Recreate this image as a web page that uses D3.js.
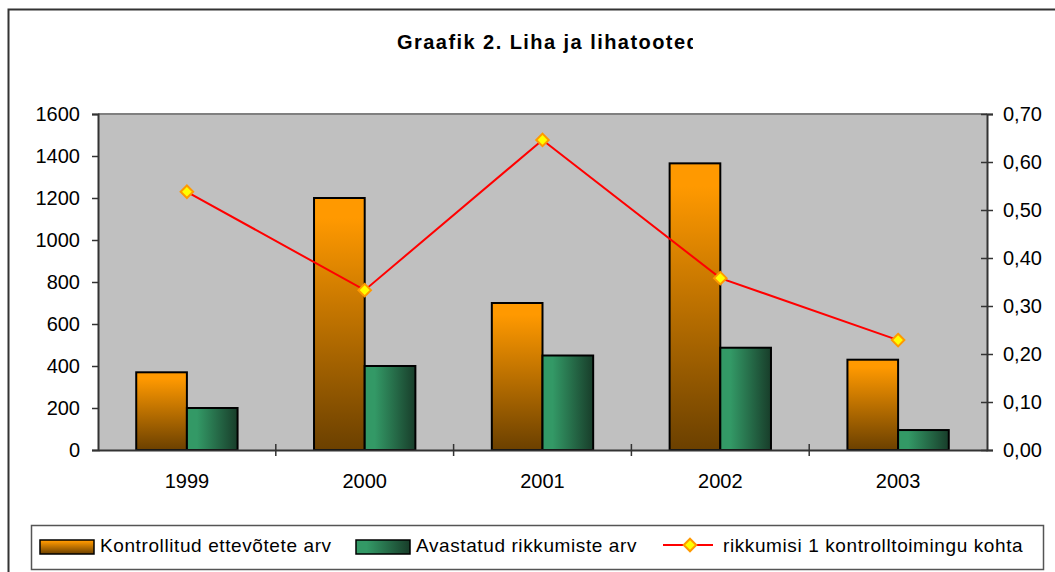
<!DOCTYPE html>
<html>
<head>
<meta charset="utf-8">
<script src="https://cdn.jsdelivr.net/npm/d3@7"></script>
<style>
  body { margin: 0; background: #fff; }
  text { font-family: "Liberation Sans", Arial, sans-serif; }
</style>
</head>
<body>
<div id="chart-area"><svg></svg></div>
<script>
const chartSize = { width: 1055, height: 572 };
const plot = { left: 98, right: 987, top: 114, bottom: 450 };

const years = ["1999", "2000", "2001", "2002", "2003"];
const controlledCompanies = [370, 1200, 700, 1365, 430];
const violationsFound = [200, 400, 450, 487, 95];
const violationsPerCheck = [0.538, 0.333, 0.646, 0.358, 0.229];
const leftTicks = [0, 200, 400, 600, 800, 1000, 1200, 1400, 1600];
const rightTicks = [0, 0.1, 0.2, 0.3, 0.4, 0.5, 0.6, 0.7];
const seriesNames = [
  "Kontrollitud ettevõtete arv",
  "Avastatud rikkumiste arv",
  "rikkumisi 1 kontrolltoimingu kohta"
];
const titleText = "Graafik 2. Liha ja lihatooted";

const commaFormat = d => d3.format(".2f")(d).replace(".", ",");
const plainFormat = d3.format("d");

const svg = d3
  .select("#chart-area svg")
  .attr("width", chartSize.width)
  .attr("height", chartSize.height);

const defs = svg.append("defs");

const orange = defs
  .append("linearGradient")
  .attr("id", "orangeGrad")
  .attr("x1", 0).attr("y1", 0).attr("x2", 0).attr("y2", 1);
orange.append("stop").attr("offset", 0).attr("stop-color", "#FF9900");
orange.append("stop").attr("offset", 0.08).attr("stop-color", "#FF9900");
orange.append("stop").attr("offset", 1).attr("stop-color", "#6B4000");

const green = defs
  .append("linearGradient")
  .attr("id", "greenGrad")
  .attr("x1", 0).attr("y1", 0).attr("x2", 1).attr("y2", 0);
green.append("stop").attr("offset", 0).attr("stop-color", "#339966");
green.append("stop").attr("offset", 0.2).attr("stop-color", "#339966");
green.append("stop").attr("offset", 1).attr("stop-color", "#183D2A");

// the title is cut off at the right in the original
defs.append("clipPath").attr("id", "titleClip")
  .append("rect").attr("x", 0).attr("y", 0).attr("width", 693).attr("height", 80);

// outer chart frame (runs off the page on the right and bottom)
svg.append("rect")
  .attr("x", 8.5).attr("y", 9.5)
  .attr("width", 1100).attr("height", 620)
  .attr("fill", "#fff")
  .attr("stroke", "#333")
  .attr("stroke-width", 2);

svg.append("text")
  .attr("x", 397)
  .attr("y", 49)
  .attr("clip-path", "url(#titleClip)")
  .attr("font-size", 20)
  .attr("font-weight", "bold")
  .attr("letter-spacing", 1.45)
  .text(titleText);

const x = d3.scaleBand().domain(years).range([plot.left, plot.right]).padding(0);
const xSub = d3
  .scaleBand()
  .domain([0, 1])
  .range([x.bandwidth() * 0.215, x.bandwidth() * 0.785]);
const yLeft = d3.scaleLinear().domain([0, 1600]).range([plot.bottom, plot.top]);
const yRight = d3.scaleLinear().domain([0, 0.7]).range([plot.bottom, plot.top]);

svg.append("rect")
  .attr("x", plot.left).attr("y", plot.top)
  .attr("width", plot.right - plot.left)
  .attr("height", plot.bottom - plot.top)
  .attr("fill", "#C0C0C0");

svg.append("line")
  .attr("x1", plot.left).attr("x2", plot.right)
  .attr("y1", plot.top).attr("y2", plot.top)
  .attr("stroke", "#808080")
  .attr("stroke-width", 2);

// bars
const rows = years.map((year, i) => ({
  year,
  values: [controlledCompanies[i], violationsFound[i]]
}));
const fills = ["url(#orangeGrad)", "url(#greenGrad)"];

svg.append("g")
  .selectAll("g")
  .data(rows)
  .join("g")
  .attr("transform", d => `translate(${x(d.year)},0)`)
  .selectAll("rect")
  .data(d => d.values)
  .join("rect")
  .attr("x", (d, i) => xSub(i))
  .attr("y", d => yLeft(d))
  .attr("width", xSub.bandwidth())
  .attr("height", d => yLeft(0) - yLeft(d))
  .attr("fill", (d, i) => fills[i])
  .attr("stroke", "#000")
  .attr("stroke-width", 2);

// axes
const leftAxis = svg.append("g")
  .attr("transform", `translate(${plot.left},0)`)
  .call(d3.axisLeft(yLeft).tickValues(leftTicks).tickSize(6).tickPadding(12).tickFormat(plainFormat));

const rightAxis = svg.append("g")
  .attr("transform", `translate(${plot.right},0)`)
  .call(d3.axisRight(yRight).tickValues(rightTicks).tickSize(6).tickPadding(10).tickFormat(commaFormat));
rightAxis.selectAll(".tick line").attr("x1", -6);

const bottomAxis = svg.append("g")
  .attr("transform", `translate(0,${plot.bottom})`)
  .call(d3.axisBottom(x).tickSize(0).tickPadding(0));
bottomAxis.selectAll("text").attr("dy", null).attr("y", 38);

bottomAxis.selectAll(".boundary")
  .data(years.slice(1))
  .join("line")
  .attr("class", "boundary")
  .attr("x1", d => x(d)).attr("x2", d => x(d))
  .attr("y1", -6).attr("y2", 6)
  .attr("stroke", "#333")
  .attr("stroke-width", 1.5);

[leftAxis, rightAxis, bottomAxis].forEach(axis => {
  axis.select(".domain").attr("stroke", "#333").attr("stroke-width", 2);
  axis.selectAll(".tick line").attr("stroke", "#333").attr("stroke-width", 1.5);
  axis.selectAll("text")
    .attr("font-size", 20)
    .attr("fill", "#000")
    .attr("font-family", "Liberation Sans, Arial, sans-serif");
});

// line series
const line = d3
  .line()
  .x((d, i) => x(years[i]) + x.bandwidth() / 2)
  .y(d => yRight(d));

svg.append("path")
  .datum(violationsPerCheck)
  .attr("d", line)
  .attr("fill", "none")
  .attr("stroke", "#FF0000")
  .attr("stroke-width", 2);

const diamond = d3.symbol().type(d3.symbolDiamond2).size(100);

svg.append("g")
  .selectAll("path")
  .data(violationsPerCheck)
  .join("path")
  .attr("d", diamond)
  .attr("transform", (d, i) => `translate(${x(years[i]) + x.bandwidth() / 2},${yRight(d)})`)
  .attr("fill", "#FFFF00")
  .attr("stroke", "#FF9900")
  .attr("stroke-width", 2);

// legend
const legend = svg.append("g");
legend.append("rect")
  .attr("x", 31.5).attr("y", 525.5)
  .attr("width", 1012).attr("height", 44)
  .attr("fill", "#fff")
  .attr("stroke", "#555")
  .attr("stroke-width", 1.5);

const swatchX = [40, 356];
const textX = [100, 416, 723];

swatchX.forEach((sx, i) => {
  legend.append("rect")
    .attr("x", sx).attr("y", 540)
    .attr("width", 54).attr("height", 14)
    .attr("fill", fills[i])
    .attr("stroke", "#000")
    .attr("stroke-width", 1.5);
});

legend.append("line")
  .attr("x1", 663).attr("x2", 713)
  .attr("y1", 545).attr("y2", 545)
  .attr("stroke", "#FF0000")
  .attr("stroke-width", 2);
legend.append("path")
  .attr("d", diamond)
  .attr("transform", "translate(690,545)")
  .attr("fill", "#FFFF00")
  .attr("stroke", "#FF9900")
  .attr("stroke-width", 2);

legend.selectAll(".label")
  .data(seriesNames)
  .join("text")
  .attr("class", "label")
  .attr("x", (d, i) => textX[i])
  .attr("y", 552)
  .attr("font-size", 19)
  .attr("letter-spacing", 0.6)
  .text(d => d);
</script>
</body>
</html>
